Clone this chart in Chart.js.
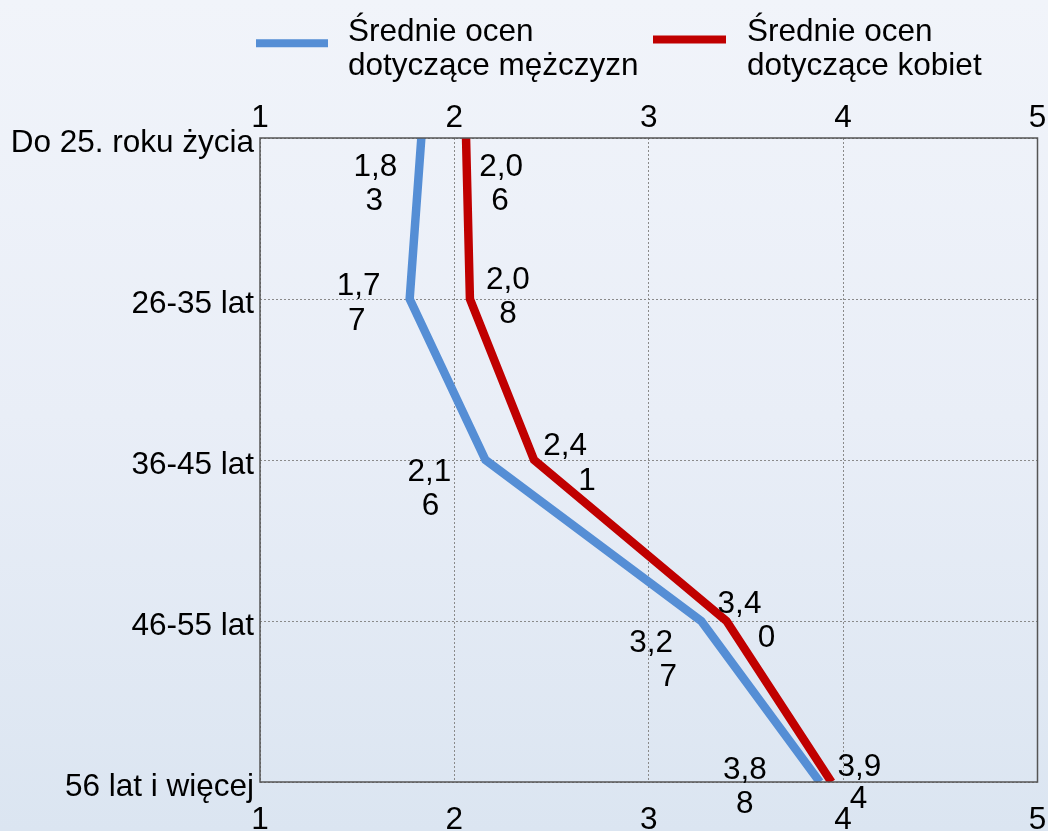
<!DOCTYPE html>
<html>
<head>
<meta charset="utf-8">
<script src="https://cdn.jsdelivr.net/npm/chart.js@4.4.1/dist/chart.umd.min.js"></script>
<style>
  html, body { margin: 0; padding: 0; }
  body { width: 1048px; height: 831px; overflow: hidden;
         background: linear-gradient(to bottom, #f1f4fa 0%, #e9eef7 50%, #dbe5f1 100%); }
  #wrap { position: absolute; left: 0; top: 0; width: 1048px; height: 831px; }
</style>
</head>
<body>
<div id="wrap"><canvas id="c" width="1048" height="831"></canvas></div>
<script>
// ---- data ----
const categories = ['Do 25. roku życia', '26-35 lat', '36-45 lat', '46-55 lat', '56 lat i więcej'];
const menValues = [1.83, 1.77, 2.16, 3.27, 3.88];
const womenValues = [2.06, 2.08, 2.41, 3.40, 3.94];
const seriesNames = [['Średnie ocen', 'dotyczące mężczyzn'], ['Średnie ocen', 'dotyczące kobiet']];
const xTickMin = 1, xTickMax = 5, xTickStep = 1;

// ---- style / placement (not data) ----
const seriesColors = ['#558ed5', '#c00000'];
const FONT = '"Liberation Sans", Arial, sans-serif';
const FS = 31.5;
// per-point label offsets relative to the point: [dx line1, dy line1, dx line2, dy line2]
const labelOffsets = [
  [[-46, 29, -47, 63], [-51, -13, -53, 22], [-56, 12, -55, 46], [-50, 22, -33, 56], [-75, -12, -75, 22]],
  [[35, 29, 34, 63], [38, -19, 38, 15], [31, -14, 53, 21], [13, -17, 40, 17], [28, -15, 27, 17]]
];
const legendPos = [ {lx1: 256, lx2: 328, ly: 43.3, tx: 348}, {lx1: 653, lx2: 726, ly: 39.5, tx: 747} ];
const legendLineY = [32.6, 66.6];

const gridColor = '#8a8a8a';
const borderColor = '#555555';

const overlay = {
  id: 'overlay',
  afterDatasetsDraw(chart) {
    const ctx = chart.ctx;
    const a = chart.chartArea;
    // plot border
    ctx.save();
    ctx.strokeStyle = borderColor;
    ctx.lineWidth = 1.5;
    ctx.strokeRect(a.left, a.top, a.right - a.left, a.bottom - a.top);
    ctx.restore();
    // data labels
    ctx.save();
    ctx.font = FS + 'px ' + FONT;
    ctx.fillStyle = '#000';
    ctx.textAlign = 'center';
    ctx.textBaseline = 'middle';
    chart.data.datasets.forEach((ds, di) => {
      const meta = chart.getDatasetMeta(di);
      meta.data.forEach((pt, i) => {
        const s = ds.data[i].toFixed(2).replace('.', ',');
        const o = labelOffsets[di][i];
        ctx.fillText(s.slice(0, 3), pt.x + o[0], pt.y + o[1]);
        ctx.fillText(s.slice(3), pt.x + o[2], pt.y + o[3]);
      });
    });
    ctx.restore();
    // legend
    ctx.save();
    chart.data.datasets.forEach((ds, di) => {
      const p = legendPos[di];
      ctx.strokeStyle = ds.borderColor;
      ctx.lineWidth = 8;
      ctx.lineCap = 'butt';
      ctx.beginPath();
      ctx.moveTo(p.lx1, p.ly);
      ctx.lineTo(p.lx2, p.ly);
      ctx.stroke();
      ctx.font = FS + 'px ' + FONT;
      ctx.fillStyle = '#000';
      ctx.textAlign = 'left';
      ctx.textBaseline = 'middle';
      seriesNames[di].forEach((line, li) => ctx.fillText(line, p.tx, legendLineY[li]));
    });
    ctx.restore();
  }
};

const tickFont = { family: FONT, size: FS };
function noPad(s) { s.paddingLeft = 0; s.paddingRight = 0; s.paddingTop = 0; s.paddingBottom = 0; }

new Chart(document.getElementById('c'), {
  type: 'line',
  data: {
    labels: categories,
    datasets: [
      { label: seriesNames[0].join(' '), data: menValues, borderColor: seriesColors[0], backgroundColor: seriesColors[0],
        borderWidth: 8.5, pointRadius: 0, pointHoverRadius: 0, tension: 0, clip: 0, borderJoinStyle: 'miter', fill: false },
      { label: seriesNames[1].join(' '), data: womenValues, borderColor: seriesColors[1], backgroundColor: seriesColors[1],
        borderWidth: 8.5, pointRadius: 0, pointHoverRadius: 0, tension: 0, clip: 0, borderJoinStyle: 'miter', fill: false }
    ]
  },
  options: {
    indexAxis: 'y',
    responsive: false,
    animation: false,
    events: [],
    layout: { padding: { left: 0, right: 10.5, top: 0, bottom: 0 } },
    plugins: { legend: { display: false }, tooltip: { enabled: false } },
    scales: {
      x: {
        type: 'linear', position: 'top', min: xTickMin, max: xTickMax,
        ticks: { stepSize: xTickStep, font: tickFont, color: '#000', padding: 1, maxRotation: 0 },
        grid: { color: gridColor, lineWidth: 1, drawTicks: false },
        border: { display: false, dash: [2, 2] },
        afterFit(s) { s.height = 138; noPad(s); }
      },
      x2: {
        type: 'linear', position: 'bottom', min: xTickMin, max: xTickMax,
        ticks: { stepSize: xTickStep, font: tickFont, color: '#000', padding: 19, maxRotation: 0 },
        grid: { display: false, drawTicks: false },
        border: { display: false },
        afterFit(s) { s.height = 49; noPad(s); }
      },
      y: {
        type: 'category', position: 'left', offset: false,
        ticks: { font: tickFont, color: '#000', padding: 6, labelOffset: 5, autoSkip: false },
        grid: { color: gridColor, lineWidth: 1, drawTicks: false },
        border: { display: false, dash: [2, 2] },
        afterFit(s) { s.width = 260; noPad(s); }
      }
    }
  },
  plugins: [overlay]
});
</script>
</body>
</html>
